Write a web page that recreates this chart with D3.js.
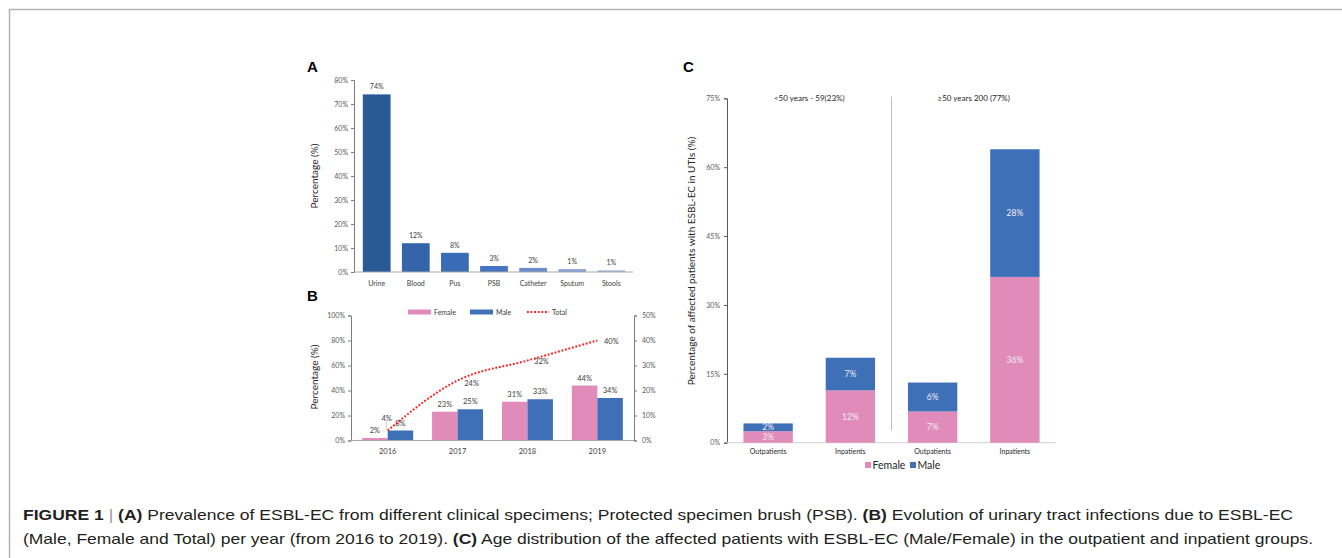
<!DOCTYPE html>
<html>
<head>
<meta charset="utf-8">
<script src="https://cdn.jsdelivr.net/npm/d3@7"></script>
<style>
  body { margin: 0; background: #fff; }
  svg { display: block; }
  .tick text { fill: #595959; }
</style>
</head>
<body>
<script>
// ---- panel A: specimens
const specimens = ["Urine", "Blood", "Pus", "PSB", "Catheter", "Sputum", "Stools"];
const specimenPct = [0.74, 0.12, 0.08, 0.025, 0.017, 0.012, 0.007];
const specimenLabels = ["74%", "12%", "8%", "3%", "2%", "1%", "1%"];
const specimenColors = ["#285b95", "#3465ab", "#3a6cb6", "#4673c2", "#6d8ccd", "#8ba4d8", "#a4b7e0"];
const ticksA = [0, 0.1, 0.2, 0.3, 0.4, 0.5, 0.6, 0.7, 0.8];

// ---- panel B: per year
const years = ["2016", "2017", "2018", "2019"];
const femaleYear = [0.02, 0.23, 0.31, 0.44];
const maleYear = [0.08, 0.25, 0.33, 0.34];
const totalYear = [0.04, 0.24, 0.32, 0.40];
const ticksBLeft = [0, 0.2, 0.4, 0.6, 0.8, 1.0];
const ticksBRight = [0, 0.1, 0.2, 0.3, 0.4, 0.5];

// ---- panel C: age groups
const groupsC = ["o1", "i1", "o2", "i2"];
const groupNamesC = ["Outpatients", "Inpatients", "Outpatients", "Inpatients"];
const femaleC = [2.5, 11.4, 6.8, 36.1];
const maleC = [1.7, 7.1, 6.3, 27.8];
const femaleCLabels = ["3%", "12%", "7%", "36%"];
const maleCLabels = ["2%", "7%", "6%", "28%"];
const ageHeaders = ["<50 years - 59(23%)", "\u226550 years 200 (77%)"];
const ticksC = [0, 15, 30, 45, 60, 75];

const pink = "#e08bba", blue = "#3e70b8";
const smallFont = "Lato, 'Open Sans', sans-serif";

const svg = d3.select("body").append("svg")
    .attr("width", 1342).attr("height", 558);

svg.append("rect").attr("width", 1342).attr("height", 558).attr("fill", "#fff");

// frame
svg.append("path")
    .attr("d", "M9.5,558 V9.5 H1342")
    .attr("fill", "none").attr("stroke", "#b5b5b5").attr("stroke-width", 1.5);

function panelLetter(x, y, t) {
  svg.append("text").attr("x", x).attr("y", y).text(t)
    .attr("font-family", "Arial, 'Liberation Sans', sans-serif")
    .attr("font-weight", "bold").attr("font-size", 15).attr("fill", "#000");
}

function styleAxis(g, color) {
  g.select(".domain").attr("stroke", color);
  g.selectAll(".tick line").attr("stroke", color);
  g.selectAll(".tick text").attr("font-family", smallFont).attr("font-size", 7);
}

// ================= A =================
panelLetter(307, 72, "A");
const xA = d3.scaleBand().domain(specimens).range([355, 633]).paddingInner(0.29).paddingOuter(0.2);
const yA = d3.scaleLinear().domain([0, 0.8]).range([272, 80]);

svg.append("g").attr("transform", "translate(354,0)")
  .call(d3.axisLeft(yA).tickValues(ticksA).tickFormat(d3.format(".0%")).tickSize(3).tickPadding(3))
  .call(g => styleAxis(g, "#7f7f7f"));

svg.append("g").selectAll("rect").data(specimens).join("rect")
  .attr("x", d => xA(d)).attr("width", xA.bandwidth())
  .attr("y", (d, i) => yA(specimenPct[i]))
  .attr("height", (d, i) => yA(0) - yA(specimenPct[i]))
  .attr("fill", (d, i) => specimenColors[i]);

svg.append("line").attr("x1", 354).attr("x2", 633).attr("y1", yA(0)).attr("y2", yA(0))
  .attr("stroke", "#a6a6a6");

svg.append("g").selectAll("text").data(specimens).join("text")
  .attr("x", d => xA(d) + xA.bandwidth() / 2)
  .attr("y", (d, i) => yA(specimenPct[i]) - 5)
  .attr("text-anchor", "middle").attr("font-family", smallFont).attr("font-size", 7)
  .attr("fill", "#404040").text((d, i) => specimenLabels[i]);

svg.append("g").selectAll("text").data(specimens).join("text")
  .attr("x", d => xA(d) + xA.bandwidth() / 2).attr("y", 286)
  .attr("text-anchor", "middle").attr("font-family", smallFont).attr("font-size", 7)
  .attr("fill", "#404040").text(d => d);

svg.append("text").attr("transform", "translate(318,176) rotate(-90)")
  .attr("text-anchor", "middle").attr("font-family", smallFont).attr("font-size", 10)
  .attr("fill", "#262626").text("Percentage (%)");

// ================= B =================
panelLetter(307, 301, "B");
const xB = d3.scaleBand().domain(years).range([351, 634]).paddingInner(0.27).paddingOuter(0.16);
const xBin = d3.scaleBand().domain(["f", "m"]).range([0, xB.bandwidth()]);
const yBL = d3.scaleLinear().domain([0, 1]).range([440.5, 315.5]);
const yBR = d3.scaleLinear().domain([0, 0.5]).range([440.5, 315.5]);

svg.append("g").attr("transform", "translate(351,0)")
  .call(d3.axisLeft(yBL).tickValues(ticksBLeft).tickFormat(d3.format(".0%")).tickSize(3).tickPadding(3))
  .call(g => styleAxis(g, "#7f7f7f"));
svg.append("g").attr("transform", "translate(634,0)")
  .call(d3.axisRight(yBR).tickValues(ticksBRight).tickFormat(d3.format(".0%")).tickSize(3).tickPadding(5))
  .call(g => styleAxis(g, "#7f7f7f"));

const gB = svg.append("g");
years.forEach((yr, i) => {
  const x0 = xB(yr);
  gB.append("rect").attr("x", x0 + xBin("f")).attr("width", xBin.bandwidth())
    .attr("y", yBL(femaleYear[i])).attr("height", yBL(0) - yBL(femaleYear[i])).attr("fill", pink);
  gB.append("rect").attr("x", x0 + xBin("m")).attr("width", xBin.bandwidth())
    .attr("y", yBL(maleYear[i])).attr("height", yBL(0) - yBL(maleYear[i])).attr("fill", blue);
  gB.append("text").attr("x", x0 + xBin("f") + xBin.bandwidth() / 2).attr("y", yBL(femaleYear[i]) - 5)
    .attr("text-anchor", "middle").attr("font-family", smallFont).attr("font-size", 7.5)
    .attr("fill", "#404040").text(Math.round(femaleYear[i] * 100) + "%");
  gB.append("text").attr("x", x0 + xBin("m") + xBin.bandwidth() / 2).attr("y", yBL(maleYear[i]) - 5)
    .attr("text-anchor", "middle").attr("font-family", smallFont).attr("font-size", 7.5)
    .attr("fill", "#404040").text(Math.round(maleYear[i] * 100) + "%");
  gB.append("text").attr("x", x0 + xB.bandwidth() / 2).attr("y", 454)
    .attr("text-anchor", "middle").attr("font-family", smallFont).attr("font-size", 7.5)
    .attr("fill", "#404040").text(yr);
});

svg.append("line").attr("x1", 351).attr("x2", 634).attr("y1", yBL(0)).attr("y2", yBL(0))
  .attr("stroke", "#a6a6a6");

const lineB = d3.line()
  .x((d, i) => xB(years[i]) + xB.bandwidth() / 2)
  .y(d => yBR(d))
  .curve(d3.curveMonotoneX);
svg.append("path").attr("d", lineB(totalYear))
  .attr("fill", "none").attr("stroke", "#ff1a1a").attr("stroke-width", 2)
  .attr("stroke-dasharray", "1.8,1.8");

// total labels
totalYear.forEach((v, i) => {
  const cx = xB(years[i]) + xB.bandwidth() / 2;
  if (i === 0) {
    svg.append("line").attr("x1", cx - 1).attr("x2", cx - 1).attr("y1", yBR(v) - 8).attr("y2", yBR(v) - 1)
      .attr("stroke", "#a6a6a6").attr("stroke-width", 0.6);
    svg.append("text").attr("x", cx - 1).attr("y", yBR(v) - 10)
      .attr("text-anchor", "middle").attr("font-family", smallFont).attr("font-size", 7.5)
      .attr("fill", "#404040").text(Math.round(v * 100) + "%");
  } else {
    svg.append("text").attr("x", cx + 14).attr("y", yBR(v) + (i === 1 ? 5 : 3.5))
      .attr("text-anchor", "middle").attr("font-family", smallFont).attr("font-size", 7.5)
      .attr("fill", "#404040").text(Math.round(v * 100) + "%");
  }
});

// legend B
const legB = svg.append("g").attr("font-family", smallFont).attr("font-size", 7).attr("fill", "#404040");
legB.append("rect").attr("x", 408).attr("y", 309.5).attr("width", 23).attr("height", 5).attr("fill", pink);
legB.append("text").attr("x", 434).attr("y", 314.5).text("Female");
legB.append("rect").attr("x", 470).attr("y", 309.5).attr("width", 23).attr("height", 5).attr("fill", blue);
legB.append("text").attr("x", 496).attr("y", 314.5).text("Male");
legB.append("line").attr("x1", 527).attr("x2", 549).attr("y1", 312).attr("y2", 312)
  .attr("stroke", "#ff1a1a").attr("stroke-width", 2).attr("stroke-dasharray", "1.8,1.8");
legB.append("text").attr("x", 552).attr("y", 314.5).text("Total");

svg.append("text").attr("transform", "translate(318,377) rotate(-90)")
  .attr("text-anchor", "middle").attr("font-family", smallFont).attr("font-size", 10)
  .attr("fill", "#262626").text("Percentage (%)");

// ================= C =================
panelLetter(683, 72, "C");
const xC = d3.scaleBand().domain(groupsC).range([727, 1056]).paddingInner(0.4).paddingOuter(0.2);
const yC = d3.scaleLinear().domain([0, 75]).range([442.7, 98.3]);

svg.append("g").attr("transform", "translate(727,0)")
  .call(d3.axisLeft(yC).tickValues(ticksC).tickFormat(d => d + "%").tickSize(3).tickPadding(4))
  .call(g => styleAxis(g, "#595959"));

svg.append("line").attr("x1", 727).attr("x2", 1056).attr("y1", yC(0)).attr("y2", yC(0))
  .attr("stroke", "#d0d0d0");

const stackC = d3.stack().keys(["female", "male"])(
  groupsC.map((g, i) => ({ female: femaleC[i], male: maleC[i] })));
const labelsC = [femaleCLabels, maleCLabels];
const colorsC = [pink, blue];

stackC.forEach((layer, k) => {
  const gl = svg.append("g");
  gl.selectAll("rect").data(layer).join("rect")
    .attr("x", (d, i) => xC(groupsC[i])).attr("width", xC.bandwidth())
    .attr("y", d => yC(d[1])).attr("height", d => yC(d[0]) - yC(d[1]))
    .attr("fill", colorsC[k]);
  gl.selectAll("text").data(layer).join("text")
    .attr("x", (d, i) => xC(groupsC[i]) + xC.bandwidth() / 2)
    .attr("y", d => (yC(d[0]) + yC(d[1])) / 2 + 3)
    .attr("text-anchor", "middle").attr("font-family", smallFont).attr("font-size", 8.5)
    .attr("fill", "#f4eef4").text((d, i) => labelsC[k][i]);
});

svg.append("g").selectAll("text").data(groupsC).join("text")
  .attr("x", d => xC(d) + xC.bandwidth() / 2).attr("y", 453.5)
  .attr("text-anchor", "middle").attr("font-family", smallFont).attr("font-size", 7)
  .attr("fill", "#262626").text((d, i) => groupNamesC[i]);

// divider between age groups
const divX = xC("i1") + xC.bandwidth() + (xC.step() - xC.bandwidth()) / 2;
svg.append("line").attr("x1", divX).attr("x2", divX).attr("y1", 96.7).attr("y2", 430.7)
  .attr("stroke", "#bfbfbf").attr("stroke-width", 1);

[["o1", "i1"], ["o2", "i2"]].forEach((pair, i) => {
  const cx = (xC(pair[0]) + xC(pair[1]) + xC.bandwidth()) / 2;
  svg.append("text").attr("x", cx).attr("y", 100.5)
    .attr("text-anchor", "middle").attr("font-family", smallFont).attr("font-size", 8)
    .attr("fill", "#262626").text(ageHeaders[i]);
});

// legend C
const legC = svg.append("g").attr("font-family", smallFont).attr("font-size", 10.5).attr("fill", "#262626");
legC.append("rect").attr("x", 865).attr("y", 462).attr("width", 6).attr("height", 6).attr("fill", pink);
legC.append("text").attr("x", 872.5).attr("y", 469).text("Female");
legC.append("rect").attr("x", 910).attr("y", 462).attr("width", 6).attr("height", 6).attr("fill", blue);
legC.append("text").attr("x", 917.5).attr("y", 469).text("Male");

svg.append("text").attr("transform", "translate(695,261) rotate(-90)")
  .attr("text-anchor", "middle").attr("font-family", smallFont).attr("font-size", 10)
  .attr("fill", "#262626").text("Percentage of affected patients with ESBL-EC in UTIs  (%)");

// ================= caption =================
const cap = svg.append("g").attr("font-family", "'Liberation Sans', Arial, sans-serif")
  .attr("font-size", 14.5).attr("fill", "#231f20");

const capLines = [
  [["FIGURE 1", true], [" ", false], ["|", "bar"], [" ", false], ["(A)", true],
   [" Prevalence of ESBL-EC from different clinical specimens; Protected specimen brush (PSB). ", false],
   ["(B)", true], [" Evolution of urinary tract infections due to ESBL-EC", false]],
  [["(Male, Female and Total) per year (from 2016 to 2019). ", false], ["(C)", true],
   [" Age distribution of the affected patients with ESBL-EC (Male/Female) in the outpatient and inpatient groups.", false]]
];
const capWidths = [1270, 1290];
const capY = [519.5, 544];

capLines.forEach((parts, li) => {
  const t = cap.append("text").attr("x", 23).attr("y", capY[li])
    .attr("textLength", capWidths[li]).attr("lengthAdjust", "spacingAndGlyphs")
    .attr("xml:space", "preserve");
  parts.forEach(p => {
    const ts = t.append("tspan").text(p[0]);
    if (p[1] === true) ts.attr("font-weight", "bold");
    if (p[1] === "bar") ts.attr("fill", "#9a9a9a").attr("font-weight", "normal");
  });
});
</script>
</body>
</html>
